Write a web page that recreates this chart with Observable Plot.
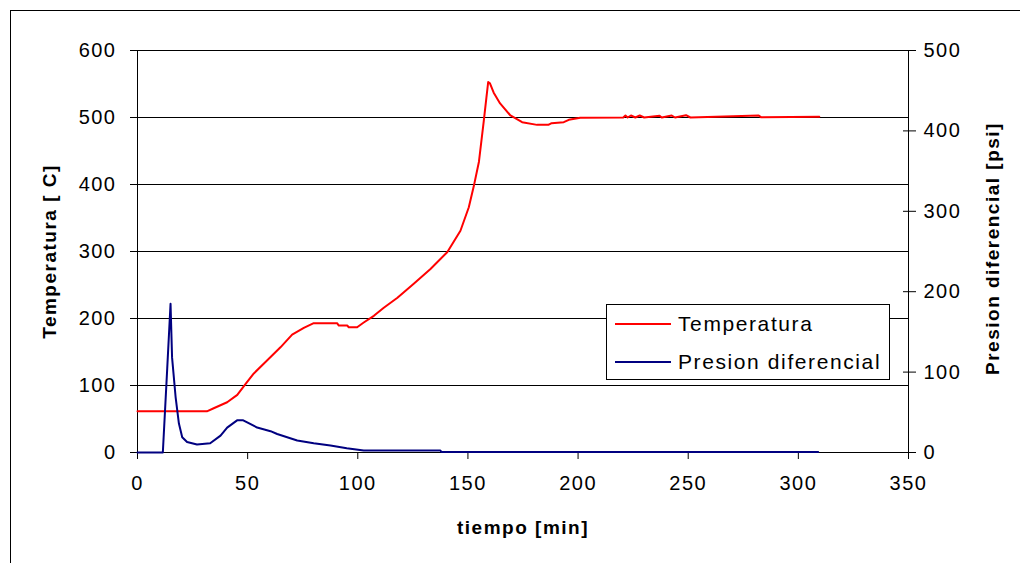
<!DOCTYPE html>
<html>
<head>
<meta charset="utf-8">
<script src="https://cdn.jsdelivr.net/npm/d3@7"></script>
<script src="https://cdn.jsdelivr.net/npm/@observablehq/plot@0.6"></script>
<style>
  html, body { margin: 0; padding: 0; background: #fff; }
  #chart { position: relative; width: 1020px; height: 563px; }
</style>
</head>
<body>
<div id="chart"></div>
<script>
// ---- Data ----
const tempTime = [0, 31.5, 34.6, 40.7, 45.3, 49, 52.8, 58.1, 64.9, 70.2, 75.5, 80, 90.6, 91.4, 95.2, 95.9, 99.7, 102.7, 107.3, 111.8, 118, 125.4, 133, 140.6, 146.6, 150.4, 152.7, 155, 157.2, 158.4, 159.2, 160, 161.7, 164.6, 169.3, 174.6, 181.4, 186.5, 188, 193.5, 195.8, 201, 220.5, 221.5, 222.5, 224, 226, 228, 230, 237, 238, 242.5, 244, 249, 251, 282, 283, 309.5];
const tempValue = [61.5, 61.5, 66, 75, 86, 102, 118, 135, 157, 176, 186, 193, 193, 189.5, 189.5, 187, 187, 194, 204, 216, 231, 252, 274, 299, 331, 366, 398, 434, 495, 530, 553, 551, 537, 521, 503, 493, 489, 489, 491.5, 493, 496.5, 499.5, 500, 503, 500, 503, 500, 503, 500, 502.5, 500, 503, 500, 503.5, 500, 503, 500.5, 501];

const presTime = [0, 11.5, 13.5, 15, 15.7, 17.3, 18.8, 20.3, 22.5, 27, 33, 37.7, 40.7, 45.2, 48, 49.8, 54.3, 60.4, 63.4, 72.5, 80, 87.6, 95, 102.7, 137.5, 138, 309];
const presValue = [0, 0, 105, 185, 118, 69, 36, 19, 13, 10, 11.5, 21, 31, 40, 40, 37.5, 31, 26.5, 23, 15, 11.6, 8.7, 5.4, 2.5, 2.5, 0.5, 0.5];

const xTicks = [0, 50, 100, 150, 200, 250, 300, 350];
const tempTicks = [0, 100, 200, 300, 400, 500, 600];
const presTicks = [0, 100, 200, 300, 400, 500];
const gridLines = [100, 200, 300, 400, 500, 600];

const seriesNames = ["Temperatura", "Presion diferencial"];
const seriesColors = ["#ff0000", "#000080"];
const xTitle = "tiempo [min]";
const yLeftTitle = "Temperatura [ C]";
const yRightTitle = "Presion diferencial [psi]";

// pressure (0–500) drawn on temperature scale (0–600)
const k = 600 / 500;

const tempData = tempTime.map((t, i) => ({t, v: tempValue[i]}));
const presData = presTime.map((t, i) => ({t, v: presValue[i] * k}));

const font = "'Liberation Sans', Arial, Helvetica, sans-serif";

const svg = Plot.plot({
  width: 1020,
  height: 563,
  marginLeft: 137,
  marginRight: 112,
  marginTop: 50,
  marginBottom: 111,
  x: {domain: [0, 350], label: null},
  y: {domain: [0, 600], label: null},
  style: {fontFamily: font, fontSize: "20px", letterSpacing: "1.5px", color: "#000", background: "transparent"},
  marks: [
    Plot.ruleY(gridLines, {stroke: "#000", strokeWidth: 1}),
    Plot.ruleY([0], {stroke: "#000", strokeWidth: 1}),
    Plot.ruleX([0], {stroke: "#000", strokeWidth: 1}),
    Plot.ruleX([350], {stroke: "#000", strokeWidth: 1}),
    Plot.axisY({ticks: tempTicks, tickSize: 7, tickPadding: 14, label: null, tickFormat: d => String(d)}),
    Plot.axisY({ticks: presTicks.map(d => d * k), anchor: "right", tickSize: 13, dx: -6, tickFormat: () => "", label: null}),
    Plot.axisY({ticks: presTicks.map(d => d * k), anchor: "right", tickSize: 0, tickPadding: 15, tickFormat: d => String(Math.round(d / k)), label: null}),
    Plot.axisX({ticks: xTicks, tickSize: 7, tickPadding: 16, label: null, tickFormat: d => String(d)}),
    Plot.line(tempData, {x: "t", y: "v", stroke: seriesColors[0], strokeWidth: 2}),
    Plot.line(presData, {x: "t", y: "v", stroke: seriesColors[1], strokeWidth: 2}),
    Plot.text([xTitle], {text: d => d, frameAnchor: "bottom", dy: 75, textAnchor: "middle", lineAnchor: "middle", fontWeight: "bold", fontSize: 19}),
    Plot.text([yLeftTitle], {text: d => d, frameAnchor: "left", dx: -88, rotate: -90, textAnchor: "middle", lineAnchor: "middle", fontWeight: "bold", fontSize: 19}),
    Plot.text([yRightTitle], {text: d => d, frameAnchor: "right", dx: 84, dy: -3, rotate: -90, textAnchor: "middle", lineAnchor: "middle", fontWeight: "bold", fontSize: 19})
  ]
});

const s = d3.select(svg);
// outer chart frame
s.append("rect")
  .attr("x", 10.5).attr("y", 10.5).attr("width", 1100).attr("height", 700)
  .attr("fill", "none").attr("stroke", "#000").attr("stroke-width", 1);

// legend
const lg = s.append("g");
lg.append("rect")
  .attr("x", 606.5).attr("y", 304.5).attr("width", 283).attr("height", 75)
  .attr("fill", "#fff").attr("stroke", "#000").attr("stroke-width", 1);
const rowsY = [324, 362];
seriesNames.forEach((name, i) => {
  lg.append("line")
    .attr("x1", 615).attr("x2", 671).attr("y1", rowsY[i]).attr("y2", rowsY[i])
    .attr("stroke", seriesColors[i]).attr("stroke-width", 2);
  lg.append("text")
    .attr("x", 678).attr("y", rowsY[i] + 6.5)
    .attr("text-anchor", "start")
    .attr("font-family", font).attr("font-size", 21)
    .style("letter-spacing", "1.6px")
    .attr("fill", "#000")
    .text(name);
});

document.getElementById("chart").appendChild(svg);
</script>
</body>
</html>
